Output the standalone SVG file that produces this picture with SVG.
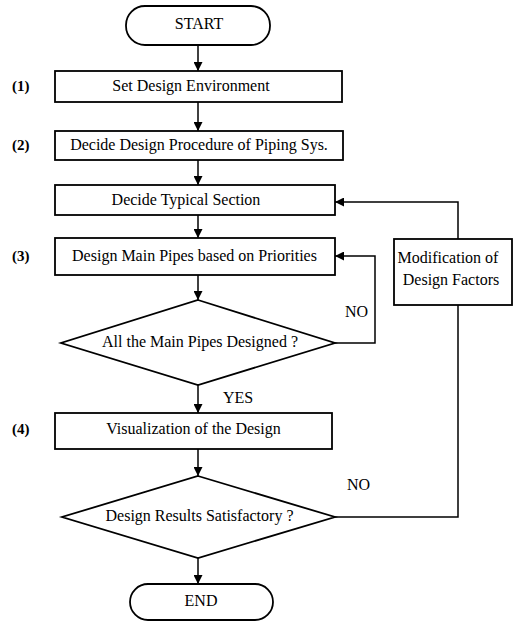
<svg xmlns="http://www.w3.org/2000/svg" width="515" height="622" viewBox="0 0 515 622">
  <style>
    text { font-family: "Liberation Serif", "Times New Roman", serif; font-size: 16px; fill: #000; }
    .c { text-anchor: middle; }
    .num { font-size: 15px; font-weight: bold; }
    .shape { fill: #fff; stroke: #000; stroke-width: 1.8; }
    .wire { fill: none; stroke: #000; stroke-width: 1.5; }
  </style>
  <defs>
    <marker id="arrowL" viewBox="0 0 10 10" refX="10" refY="5" markerWidth="14" markerHeight="9" markerUnits="userSpaceOnUse" orient="auto">
      <path d="M0,0 L10,5 L0,10 Z" fill="#000"/>
    </marker>
  </defs>

  <!-- connectors -->
  <g id="connectors" class="wire">
    <line x1="198" y1="45" x2="198" y2="71" marker-end="url(#arrowL)"/>
    <line x1="198" y1="102" x2="198" y2="131" marker-end="url(#arrowL)"/>
    <line x1="198" y1="160" x2="198" y2="185" marker-end="url(#arrowL)"/>
    <line x1="198" y1="215" x2="198" y2="238" marker-end="url(#arrowL)"/>
    <line x1="198" y1="275" x2="198" y2="300" marker-end="url(#arrowL)"/>
    <line x1="198" y1="385" x2="198" y2="413" marker-end="url(#arrowL)"/>
    <line x1="198" y1="449" x2="198" y2="476" marker-end="url(#arrowL)"/>
    <line x1="198" y1="558" x2="198" y2="584" marker-end="url(#arrowL)"/>
    <!-- NO loop back to main pipe design -->
    <polyline points="335,343 375,343 375,256 335,256" marker-end="url(#arrowL)"/>
    <!-- NO path to modification of design factors -->
    <polyline points="335,517 458,517 458,305"/>
    <polyline points="458,239 458,202 335,202" marker-end="url(#arrowL)"/>
  </g>

  <g id="start">
    <rect class="shape" x="126" y="6" width="144" height="39" rx="19" ry="19"/>
    <text class="c" x="199" y="29">START</text>
  </g>

  <g id="step1">
    <rect class="shape" x="55" y="71" width="287" height="31"/>
    <text class="c" x="191" y="91">Set Design Environment</text>
    <text class="num" x="12" y="91">(1)</text>
  </g>

  <g id="step2">
    <rect class="shape" x="55" y="131" width="288" height="29"/>
    <text class="c" x="199" y="150">Decide Design Procedure of Piping Sys.</text>
    <text class="num" x="12" y="150">(2)</text>
  </g>

  <g id="section">
    <rect class="shape" x="55" y="185" width="280" height="30"/>
    <text class="c" x="186" y="205">Decide Typical Section</text>
  </g>

  <g id="step3">
    <rect class="shape" x="55" y="238" width="280" height="37"/>
    <text class="c" x="194.5" y="261">Design Main Pipes based on Priorities</text>
    <text class="num" x="12" y="261">(3)</text>
  </g>

  <g id="decision1">
    <polygon class="shape" points="198,300 335,343 198,385 61,343"/>
    <text class="c" x="200" y="347">All the Main Pipes Designed ?</text>
  </g>

  <g id="step4">
    <rect class="shape" x="55" y="413" width="277" height="36"/>
    <text class="c" x="193.5" y="434">Visualization of the Design</text>
    <text class="num" x="12" y="434">(4)</text>
  </g>

  <g id="decision2">
    <polygon class="shape" points="198,476 335,517 198,558 62,517"/>
    <text class="c" x="199.5" y="521">Design Results Satisfactory ?</text>
  </g>

  <g id="end">
    <rect class="shape" x="130" y="584" width="143" height="36" rx="18" ry="18"/>
    <text class="c" x="201" y="606">END</text>
  </g>

  <g id="modification">
    <rect class="shape" x="394" y="239" width="118" height="66"/>
    <text class="c" x="448" y="263">Modification of</text>
    <text class="c" x="451" y="285">Design Factors</text>
  </g>

  <g id="labels">
    <text x="345" y="317">NO</text>
    <text x="223" y="403">YES</text>
    <text x="347" y="490">NO</text>
  </g>
</svg>
